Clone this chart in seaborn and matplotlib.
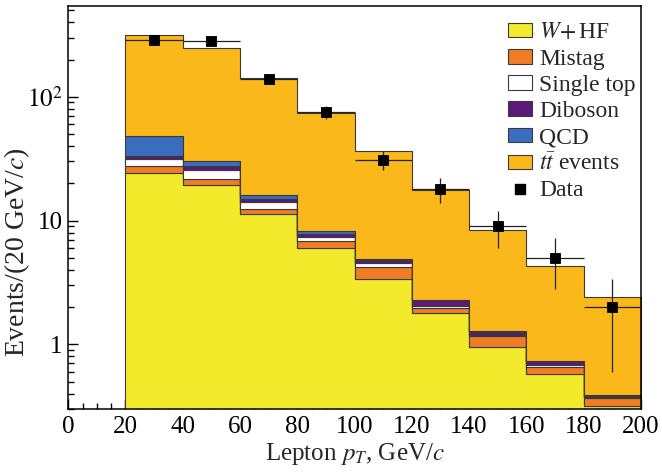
import numpy as np
import pandas as pd
import matplotlib
matplotlib.use("Agg")
import matplotlib.pyplot as plt
from matplotlib.patches import Patch
from matplotlib.lines import Line2D
from matplotlib.ticker import FixedLocator, FuncFormatter, MultipleLocator, LogLocator, NullFormatter
import seaborn as sns

# ---- data (events per 20 GeV/c bin) ----
bin_edges = [20, 40, 60, 80, 100, 120, 140, 160, 180, 200]
bin_centers = [30, 50, 70, 90, 110, 130, 150, 170, 190]

w_hf = [24.2, 19.5, 11.3, 6.0, 3.35, 1.79, 0.95, 0.58, 0.315]
mistag = [3.6, 2.2, 1.1, 0.85, 0.89, 0.16, 0.21, 0.07, 0.055]
single_top = [3.7, 3.8, 1.6, 0.55, 0.26, 0.10, 0.02, 0.025, 0.005]
diboson = [2.0, 1.9, 1.0, 0.4, 0.3, 0.22, 0.08, 0.055, 0.01]
qcd = [14.5, 2.7, 1.2, 0.45, 0.05, 0.03, 0.01, 0.005, 0.003]
ttbar = [267.0, 220.0, 126.8, 65.8, 31.5, 15.4, 7.1, 3.57, 2.0]

data_counts = [287, 280, 140, 75, 31, 18, 9, 5, 2]
data_err = [17, 17, 12, 8.7, 5.5, 4.2, 3.0, 2.2, 1.4]

labels = ["$W\\!+$HF", "Mistag", "Single top", "Diboson", "QCD", "$t\\bar{t}$ events"]
colors = ["#f4ea2c", "#f07c26", "#ffffff", "#5b1a7a", "#3b6dbf", "#fbb81a"]

# long table for seaborn: one row per (process, bin) with a weight
series = [w_hf, mistag, single_top, diboson, qcd, ttbar]
rows = []
for lab, vals in zip(labels, series):
    for c, v in zip(bin_centers, vals):
        rows.append({"pt": c, "events": v, "process": lab})
df = pd.DataFrame(rows)

sns.set_style("ticks")
plt.rcParams["font.family"] = ["Liberation Serif", "DejaVu Serif"]
plt.rcParams["mathtext.fontset"] = "stix"

fig = plt.figure(figsize=(6.62, 4.75), dpi=100)
ax = fig.add_axes([0.103, 0.139, 0.865, 0.848])

# seaborn stacks the first hue level on top, so reverse the order
hue_order = labels[::-1]
sns.histplot(data=df, x="pt", weights="events", hue="process",
             hue_order=hue_order, palette=dict(zip(labels, colors)),
             multiple="stack", bins=bin_edges, element="step",
             alpha=1, edgecolor="#3a3a3a", linewidth=0.8,
             legend=False, ax=ax)

# data points with error bars
ax.errorbar(bin_centers, data_counts, xerr=10, yerr=data_err, fmt="none",
            ecolor="#222222", elinewidth=0.9, capsize=0, zorder=5)
sns.scatterplot(x=bin_centers, y=data_counts, marker="s", s=60,
                color="black", edgecolor="black", zorder=6, ax=ax)

ax.set_yscale("log")
ax.set_xlim(0, 200)
ax.set_ylim(0.3, 540)

ax.xaxis.set_major_locator(MultipleLocator(20))
ax.xaxis.set_minor_locator(MultipleLocator(5))
ax.yaxis.set_major_locator(FixedLocator([1, 10, 100]))
ax.yaxis.set_minor_locator(LogLocator(base=10, subs=np.arange(2, 10)))
ax.yaxis.set_minor_formatter(NullFormatter())


def ylab(v, pos):
    if v >= 100:
        return "$10^2$"
    return f"{v:g}"


ax.yaxis.set_major_formatter(FuncFormatter(ylab))
ax.tick_params(which="both", direction="in", top=False, right=False,
               labelsize=18, width=1, colors="black")
ax.tick_params(which="major", length=7, pad=5)
ax.tick_params(axis="y", which="major", pad=4)
ax.tick_params(which="minor", length=4)
for sp in ax.spines.values():
    sp.set_visible(True)
    sp.set_color("black")
    sp.set_linewidth(1.1)

ax.set_xlabel("Lepton $p_T$, GeV/$c$", fontsize=18, labelpad=2)
ax.set_ylabel("Events/(20 GeV/$c$)", fontsize=20)
ax.yaxis.set_label_coords(-0.064, 0.39)

handles = [Patch(facecolor=c, edgecolor="#3a3a3a", linewidth=0.8) for c in colors]
handles.append(Line2D([], [], marker="s", color="black", linestyle="none", markersize=7))
ax.legend(handles, labels + ["Data"], loc="upper right", bbox_to_anchor=(1.006, 0.98),
          frameon=False, fontsize=17, handlelength=1.05, handleheight=0.57,
          labelspacing=0.22, handletextpad=0.3, borderaxespad=0.0, borderpad=0.35)

fig.savefig("out.png", dpi=100)
